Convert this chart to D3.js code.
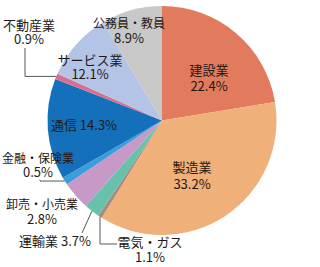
<!DOCTYPE html>
<html>
<head>
<meta charset="utf-8">
<script src="https://cdn.jsdelivr.net/npm/d3@7"></script>
<style>
body { margin: 0; background: #fff; }
text { font-family: "Noto Sans CJK JP", "Noto Sans", sans-serif; font-size: 13px; fill: #231815; }
</style>
</head>
<body>
<div id="chart"></div>
<script>

// sectors, clockwise from 12 o'clock
var sectors = ["建設業", "製造業", "電気・ガス", "運輸業", "卸売・小売業", "金融・保険業", "通信", "不動産業", "サービス業", "公務員・教員"];
// printed percentages
var printed = ["22.4%", "33.2%", "1.1%", "3.7%", "2.8%", "0.5%", "14.3%", "0.9%", "12.1%", "8.9%"];
// slice sizes as drawn in the picture (%)
var shares = [22.4, 36.4, 0.55, 2.2, 4.0, 1.1, 14.2, 0.8, 9.7, 8.6];
var colors = ["#e27b5e", "#f0b079", "#a88a7a", "#66c2ad", "#c799c6", "#3a9ddc", "#1470ba", "#d6708e", "#b4c4e6", "#c8c8c8"];

var width = 320, height = 267;
var cx = 162, cy = 120.5, radius = 114.5;

// label layout: x = centre, ys = baselines, one entry per sector
var labelPos = [
	{x: 209, ys: [75, 91]},
	{x: 192, ys: [172, 189]},
	{x: 150, ys: [247, 262]},
	{x: 55, ys: [246], oneLine: true},
	{x: 42, ys: [209, 224], size: 12},
	{x: 38, ys: [163, 177], size: 12},
	{x: 84, ys: [130], oneLine: true},
	{x: 29, ys: [30, 44]},
	{x: 90, ys: [65, 79]},
	{x: 129, ys: [28, 43], size: 12}
];

// leader lines, built from the point on the rim
var leaders = {
	2: function(e) { return [[e[0], e[1]], [e[0], 244], [117, 244]]; },
	3: function(e) { return [[e[0], e[1]], [82, 233]]; },
	5: function(e) { return [[40, 180], [40, e[1]], [e[0], e[1]]]; },
	7: function(e) { return [[25, 48], [25, e[1]], [e[0], e[1]]]; }
};

var svg = d3.select("#chart").append("svg")
	.attr("width", width)
	.attr("height", height);

var g = svg.append("g").attr("transform", "translate(" + cx + "," + cy + ")");

var pie = d3.pie().sort(null).value(function(d) { return d; });
var arcs = pie(shares);
var arc = d3.arc().innerRadius(0).outerRadius(radius);

g.selectAll("path.slice")
	.data(arcs)
	.enter()
	.append("path")
	.attr("class", "slice")
	.attr("d", arc)
	.attr("fill", function(d, i) { return colors[i]; });

// leader lines
var line = d3.line();
arcs.forEach(function(d, i) {
	if (!leaders[i]) return;
	var mid = (d.startAngle + d.endAngle) / 2;
	var e = [cx + radius * Math.sin(mid), cy - radius * Math.cos(mid)];
	svg.append("path")
		.attr("d", line(leaders[i](e)))
		.attr("fill", "none")
		.attr("stroke", "#595757")
		.attr("stroke-width", 1);
});

// labels
sectors.forEach(function(name, i) {
	var p = labelPos[i];
	var lines = p.oneLine ? [name + " " + printed[i]] : [name, printed[i]];
	var t = svg.append("text").attr("text-anchor", "middle");
	lines.forEach(function(s, k) {
		var ts = t.append("tspan").attr("x", p.x).attr("y", p.ys[k]).text(s);
		if (k == 0 && p.size) ts.style("font-size", p.size + "px");
	});
});

</script>
</body>
</html>
